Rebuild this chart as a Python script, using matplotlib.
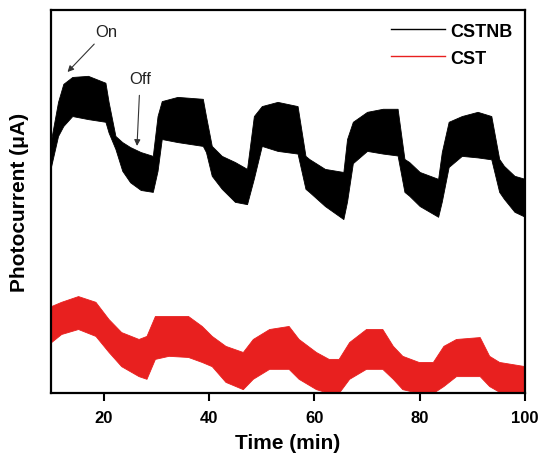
import matplotlib
matplotlib.use("Agg")
import matplotlib.pyplot as plt
from matplotlib.lines import Line2D

plt.rcParams['font.family'] = ['Liberation Sans', 'DejaVu Sans']

# --- data (upper / lower edge of the noisy band) ---
cstnb_t = [10, 11.3, 12.3, 14, 17, 20.3, 20.9, 22.2, 23.5, 25, 27, 29.3, 30.2, 31, 34,
           38.8, 39.4, 40.5, 42.4, 44.9, 47.2, 48.5, 50, 53, 56.8, 58.3, 59, 62, 65.5,
           66.2, 67.3, 70, 73, 75.8, 77.1, 78, 80, 83.5, 84.2, 85.5, 88, 91, 93.6,
           95.1, 96, 98, 100]
cstnb_hi = [66.3, 76.0, 80.7, 82.5, 82.8, 81.0, 76.0, 67.1, 65.5, 64.2, 62.9, 61.9, 72.3,
            76.2, 77.3, 76.8, 72.3, 64.5, 61.9, 60.3, 58.5, 72.3, 74.9, 76.0, 74.9, 61.9,
            61.1, 58.5, 57.7, 66.3, 70.8, 73.4, 74.2, 74.2, 61.1, 60.3, 57.7, 55.9, 62.9,
            70.8, 72.3, 73.4, 72.3, 61.1, 59.3, 56.7, 55.9]
cstnb_lo = [59.3, 67.1, 69.7, 72.3, 71.5, 70.8, 68.0, 63.7, 58.0, 55.0, 53.0, 52.5, 58.0,
            66.3, 65.5, 64.5, 62.9, 56.7, 53.3, 49.9, 49.3, 56.0, 64.5, 63.2, 62.5, 53.3,
            52.5, 48.8, 45.4, 50.0, 60.0, 63.2, 62.5, 62.0, 52.5, 51.5, 48.8, 46.0, 50.0,
            59.0, 61.9, 61.5, 61.0, 52.5, 50.7, 47.3, 46.0]

cst_t = [10, 11.9, 15.1, 18.4, 20.9, 23.3, 26.6, 28.1, 29.7, 32.3, 36, 38.6, 40.5, 43.1,
         46.4, 48.3, 51.4, 55.1, 57, 60.3, 62.7, 64.6, 66.6, 69.8, 72.9, 74.9, 76.7,
         79.8, 82.5, 84.5, 86.9, 91.4, 93.2, 95.1, 100]
cst_hi = [22.7, 23.8, 25.3, 23.8, 19.3, 15.9, 14.1, 14.9, 20.1, 20.1, 20.1, 17.5, 14.9,
          12.3, 10.7, 14.1, 16.7, 17.5, 14.1, 10.7, 8.9, 8.9, 13.3, 16.7, 16.7, 12.3,
          9.7, 8.1, 8.1, 12.3, 14.1, 14.6, 9.7, 8.1, 7.0]
cst_lo = [13.3, 15.4, 16.7, 14.9, 10.7, 7.0, 4.4, 3.7, 8.9, 9.7, 9.4, 8.1, 7.0, 2.9,
          1.0, 3.7, 6.3, 6.3, 3.7, 1.0, 0.0, 0.0, 3.7, 6.3, 6.3, 3.7, 1.0, 0.0, 0.0,
          1.8, 4.4, 4.4, 1.8, 0.3, 0.0]

x_ticks = [20, 40, 60, 80, 100]
series_names = ["CSTNB", "CST"]
series_colors = ["#000000", "#e8201f"]

fig = plt.figure(figsize=(5.39, 4.56), dpi=100)
ax = fig.add_axes([0.095, 0.136, 0.879, 0.840])

ax.fill_between(cstnb_t, cstnb_lo, cstnb_hi, color=series_colors[0], lw=0.6)
ax.fill_between(cst_t, cst_lo, cst_hi, color=series_colors[1], lw=0.6)

ax.set_xlim(10, 100)
ax.set_ylim(0, 100)
ax.set_xticks(x_ticks)
ax.set_xticklabels([str(v) for v in x_ticks], fontsize=12, fontweight='bold')
ax.set_yticks([])
ax.tick_params(axis='x', direction='out', length=6, width=1.5, pad=6)
for s in ax.spines.values():
    s.set_linewidth(1.6)

ax.set_xlabel("Time (min)", fontsize=15, fontweight='bold', labelpad=6)
ax.set_ylabel("Photocurrent (\u03bcA)", fontsize=15, fontweight='bold', labelpad=16)

# on/off annotations
ax.annotate("On", xy=(13.1, 83.8), xytext=(18.3, 94.3), fontsize=12,
            ha='left', va='center', color='#222222',
            arrowprops=dict(arrowstyle='-|>', color='#333333', lw=0.8,
                            mutation_scale=9, shrinkA=2, shrinkB=0))
ax.annotate("Off", xy=(26.3, 64.5), xytext=(26.9, 82.2), fontsize=12,
            ha='center', va='center', color='#222222',
            arrowprops=dict(arrowstyle='-|>', color='#333333', lw=0.8,
                            mutation_scale=9, shrinkA=5, shrinkB=0))

handles = [Line2D([], [], color=c, lw=1.0) for c in series_colors]
leg = ax.legend(handles, series_names, loc='upper right', frameon=False,
                prop={'weight': 'bold', 'size': 13}, handlelength=3.0,
                handletextpad=0.3, labelspacing=0.55, borderaxespad=0.3)

fig.savefig("out.png", dpi=100)
